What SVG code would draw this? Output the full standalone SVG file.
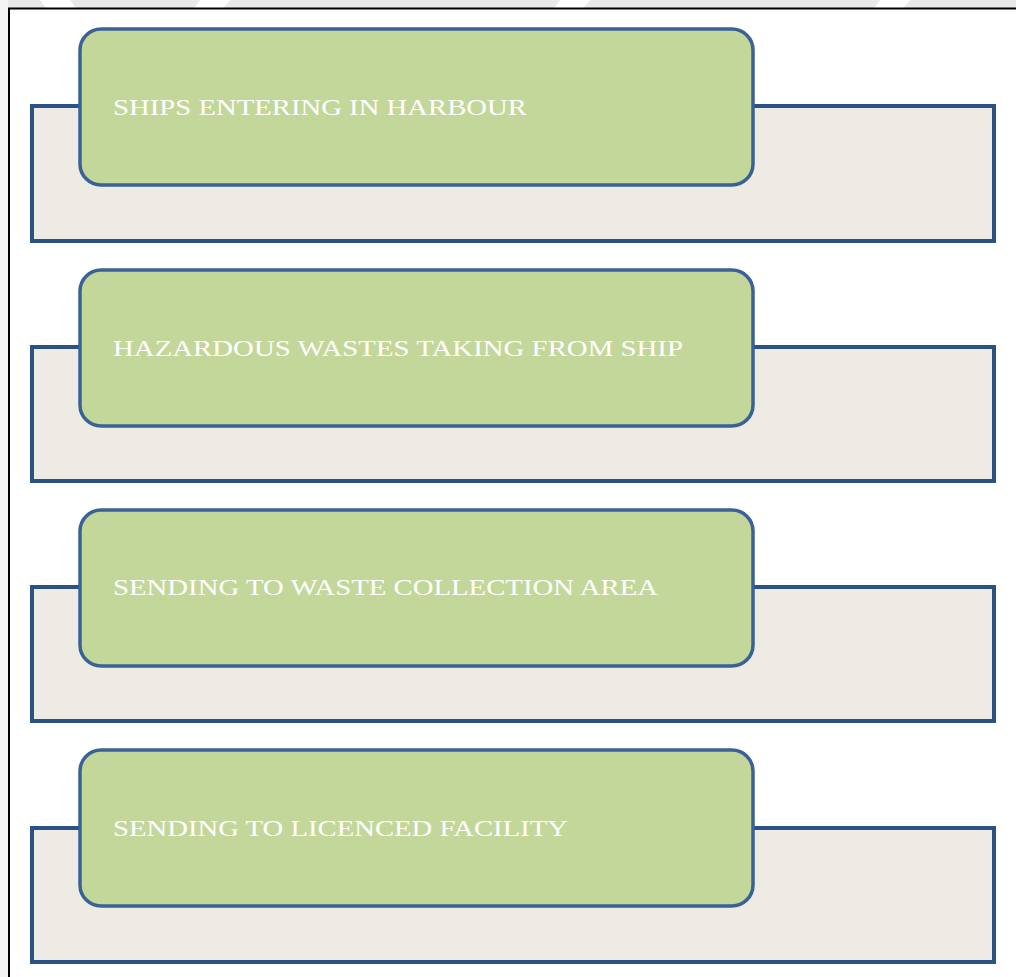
<svg xmlns="http://www.w3.org/2000/svg" width="1016" height="977" viewBox="0 0 1016 977">
  <style>
    .panel { fill: #eeebe4; stroke: #2b5286; stroke-width: 4; }
    .step { fill: #c4d79b; stroke: #3a6296; stroke-width: 3.5; }
    .label { fill: #ffffff; font-family: "Liberation Serif", "Times New Roman", serif; font-size: 24px; }
  </style>

  <!-- page background with light banding along the top and left margin -->
  <rect x="0" y="0" width="1016" height="977" fill="#ffffff"/>
  <rect x="0" y="0" width="1016" height="8" fill="#e9e9e9"/>
  <rect x="0" y="0" width="8" height="977" fill="#f4f4f4"/>
  <g fill="#ffffff">
    <polygon points="40,0 70,0 76,8 46,8"/>
    <polygon points="200,0 230,0 224,8 194,8"/>
    <polygon points="560,0 590,0 584,8 554,8"/>
    <polygon points="880,0 910,0 904,8 874,8"/>
  </g>

  <!-- outer frame -->
  <path d="M9,977 V8.5 H1016" fill="none" stroke="#000000" stroke-width="2"/>

  <g id="connectors"></g>

  <g id="step1">
    <rect class="panel" x="32" y="106" width="962" height="135"/>
    <rect class="step" x="80" y="29" width="673" height="156" rx="21" ry="21"/>
    <text class="label" x="113" y="114.5" textLength="414" lengthAdjust="spacingAndGlyphs">SHIPS ENTERING IN HARBOUR</text>
  </g>

  <g id="step2">
    <rect class="panel" x="32" y="347" width="962" height="134"/>
    <rect class="step" x="80" y="270" width="673" height="156" rx="21" ry="21"/>
    <text class="label" x="113" y="355.5" textLength="570" lengthAdjust="spacingAndGlyphs">HAZARDOUS WASTES TAKING FROM SHIP</text>
  </g>

  <g id="step3">
    <rect class="panel" x="32" y="587" width="962" height="134"/>
    <rect class="step" x="80" y="510" width="673" height="156" rx="21" ry="21"/>
    <text class="label" x="113" y="594.5" textLength="545" lengthAdjust="spacingAndGlyphs">SENDING TO WASTE COLLECTION AREA</text>
  </g>

  <g id="step4">
    <rect class="panel" x="32" y="828" width="962" height="134"/>
    <rect class="step" x="80" y="750" width="673" height="156" rx="21" ry="21"/>
    <text class="label" x="113" y="835.5" textLength="455" lengthAdjust="spacingAndGlyphs">SENDING TO LICENCED FACILITY</text>
  </g>
</svg>
